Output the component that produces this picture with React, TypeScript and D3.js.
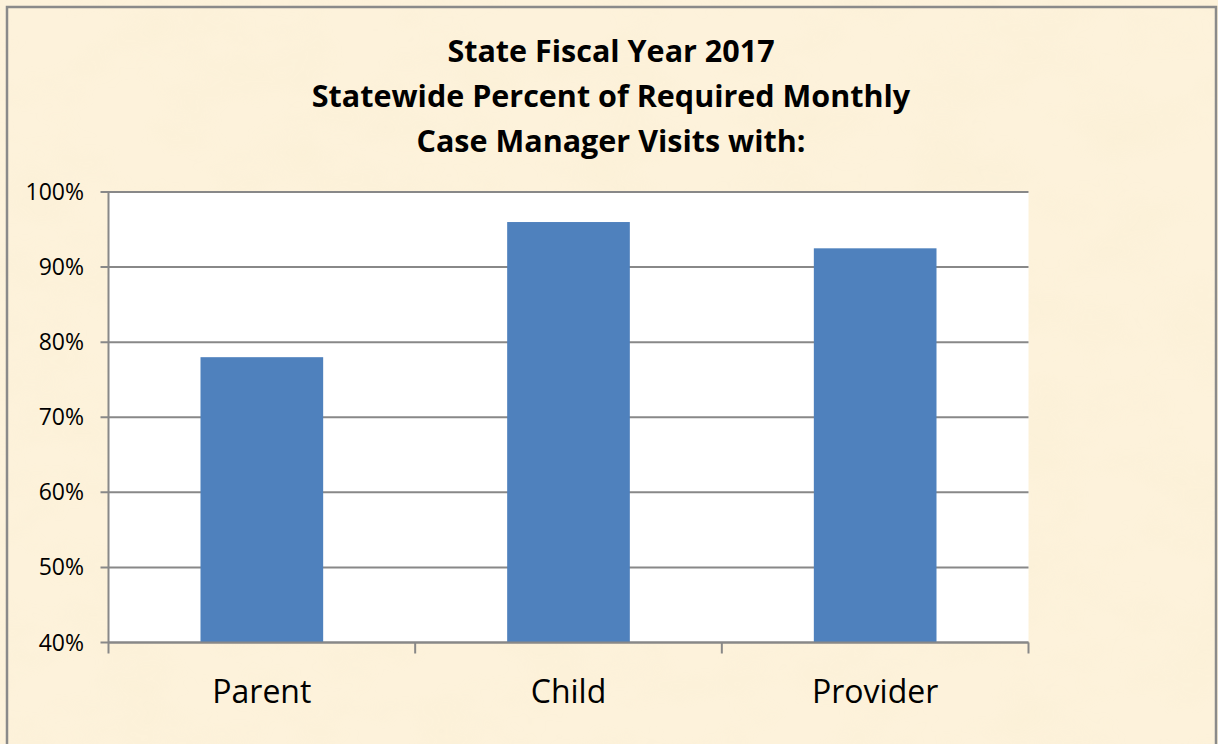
import React from 'react'
import * as d3 from 'd3'

const categories = ['Parent', 'Child', 'Provider']
const visitRates = [0.78, 0.96, 0.925]
const yTicks = [0.4, 0.5, 0.6, 0.7, 0.8, 0.9, 1.0]
const titleLines = [
  'State Fiscal Year 2017',
  'Statewide Percent of Required Monthly',
  'Case Manager Visits with:',
]

const W = 1218
const H = 744
const plot = { left: 108.5, right: 1028.5, top: 192, bottom: 642.5 }
const FONT = "'Open Sans', 'Noto Sans', sans-serif"
const GRID = '#888888'

export default function App() {
  const x = d3.scaleBand<string>()
    .domain(categories)
    .range([plot.left, plot.right])
    .paddingInner(0.6)
    .paddingOuter(0.3)
  const step = x.step()
  const y = d3.scaleLinear().domain([0.4, 1]).range([plot.bottom, plot.top])
  const fmt = d3.format('.0%')
  // category boundaries for the x-axis tick marks
  const bounds = d3.range(categories.length + 1).map(i => plot.left + i * step)

  return (
    <div style={{ position: 'fixed', left: 0, top: 0 }}>
      <svg width={W} height={H} style={{ display: 'block' }}>
        <defs>
          <filter id="parchment" x="0" y="0" width="100%" height="100%">
            <feTurbulence type="fractalNoise" baseFrequency="0.012 0.02" numOctaves="3" seed="4" result="n" />
            <feColorMatrix in="n" type="matrix"
              values="0 0 0 0 0.93  0 0 0 0 0.84  0 0 0 0 0.62  0 0 0 1.4 -0.55" />
          </filter>
        </defs>
        <rect x={0} y={0} width={W} height={H} fill="#fdf2db" />
        <rect x={0} y={0} width={W} height={H} filter="url(#parchment)" opacity={0.35} />
        <rect x={7} y={7} width={1209} height={H + 10} fill="none" stroke="#8a8a8a" strokeWidth={2.5} />

        {titleLines.map((t, i) => (
          <text key={t} x={611} y={62 + i * 45} textAnchor="middle"
            fontFamily={FONT} fontWeight={700} fontSize={30.5} fill="#000">{t}</text>
        ))}

        <rect x={plot.left} y={plot.top} width={plot.right - plot.left}
          height={plot.bottom - plot.top} fill="#ffffff" />

        {yTicks.map(v => (
          <g key={v}>
            <line x1={plot.left - 8} x2={plot.right} y1={y(v)} y2={y(v)}
              stroke={GRID} strokeWidth={2} />
            <text x={84} y={y(v)} dy="0.35em" textAnchor="end"
              fontFamily={FONT} fontSize={23} fill="#000">{fmt(v)}</text>
          </g>
        ))}

        {categories.map((c, i) => (
          <rect key={c} x={x(c)} y={y(visitRates[i])} width={x.bandwidth()}
            height={y(0.4) - y(visitRates[i])} fill="#4f81bd" />
        ))}

        <line x1={plot.left} x2={plot.left} y1={plot.top} y2={plot.bottom}
          stroke={GRID} strokeWidth={2} />
        <line x1={plot.left} x2={plot.right} y1={plot.bottom} y2={plot.bottom}
          stroke={GRID} strokeWidth={2} />
        {bounds.map(bx => (
          <line key={bx} x1={bx} x2={bx} y1={plot.bottom} y2={plot.bottom + 11}
            stroke={GRID} strokeWidth={2} />
        ))}

        {categories.map(c => (
          <text key={c} x={(x(c) ?? 0) + x.bandwidth() / 2} y={703} textAnchor="middle"
            fontFamily={FONT} fontSize={32} fill="#000">{c}</text>
        ))}
      </svg>
    </div>
  )
}
